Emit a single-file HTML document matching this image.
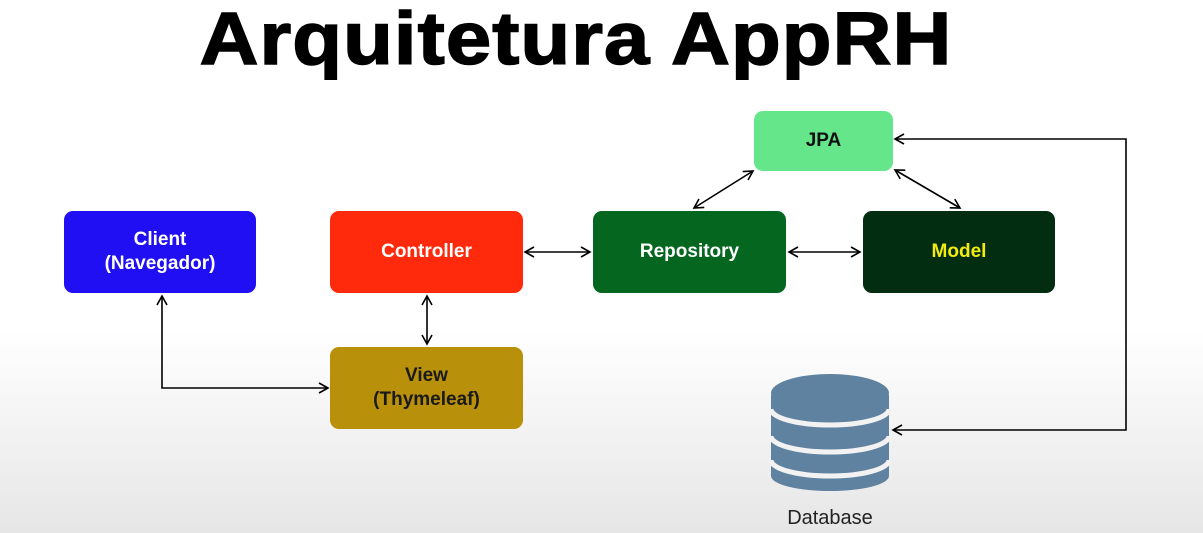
<!DOCTYPE html>
<html><head><meta charset="utf-8"><style>
html,body{margin:0;padding:0}
body{width:1203px;height:533px;overflow:hidden;position:relative;background:linear-gradient(#fff 0,#fff 330px,#e6e6e6 533px);font-family:"Liberation Sans",sans-serif}
.t{position:absolute;left:0;width:1152px;top:-4px;text-align:center;font-size:74px;font-weight:bold;letter-spacing:1px;color:#000;transform:scaleX(1.1);-webkit-text-stroke:1.5px #000}
.b{position:absolute;border-radius:9px;display:flex;align-items:center;justify-content:center;text-align:center;font-weight:bold;font-size:19px;line-height:24px;color:#fff}
</style></head><body>
<div class="t">Arquitetura AppRH</div>
<div class="b" style="left:64px;top:211px;width:192px;height:82px;background:#200ff2">Client<br>(Navegador)</div>
<div class="b" style="left:330px;top:211px;width:193px;height:82px;background:#ff2a0c">Controller</div>
<div class="b" style="left:593px;top:211px;width:193px;height:82px;background:#04661f">Repository</div>
<div class="b" style="left:863px;top:211px;width:192px;height:82px;background:#032d10;color:#f2ea10">Model</div>
<div class="b" style="left:754px;top:111px;width:139px;height:60px;background:#66e68a;color:#111">JPA</div>
<div class="b" style="left:330px;top:347px;width:193px;height:82px;background:#b8900a;color:#1a1a1a">View<br>(Thymeleaf)</div>
<svg width="1203" height="533" style="position:absolute;left:0;top:0">
<defs><marker id="a" markerWidth="12" markerHeight="12" refX="10" refY="6" orient="auto-start-reverse" markerUnits="userSpaceOnUse"><path d="M1,1 L10,6 L1,11" fill="none" stroke="#000" stroke-width="1.6"/></marker></defs>
<g stroke="#000" stroke-width="1.6" fill="none">
<line x1="525" y1="252" x2="590" y2="252" marker-start="url(#a)" marker-end="url(#a)"/>
<line x1="789" y1="252" x2="860" y2="252" marker-start="url(#a)" marker-end="url(#a)"/>
<line x1="694" y1="208" x2="753" y2="171" marker-start="url(#a)" marker-end="url(#a)"/>
<line x1="895" y1="170" x2="960" y2="208" marker-start="url(#a)" marker-end="url(#a)"/>
<line x1="427" y1="296" x2="427" y2="344" marker-start="url(#a)" marker-end="url(#a)"/>
<path d="M162,296 L162,388 L328,388" marker-start="url(#a)" marker-end="url(#a)"/>
<path d="M893,430 L1126,430 L1126,139 L895,139" marker-start="url(#a)" marker-end="url(#a)"/>
</g>
<g fill="#5f82a0">
<path d="M771,395 L771,476 A59,15 0 0 0 889,476 L889,395 Z"/>
<ellipse cx="830" cy="393" rx="59" ry="19"/>
</g>
<g fill="none" stroke="#f2f2f2" stroke-width="5">
<path d="M771,409 A59,16 0 0 0 889,409"/>
<path d="M771,436 A59,16 0 0 0 889,436"/>
<path d="M771,460 A59,16 0 0 0 889,460"/>
</g>
<text x="830" y="524" text-anchor="middle" font-family="Liberation Sans" font-size="20" fill="#222">Database</text>
</svg>
</body></html>
